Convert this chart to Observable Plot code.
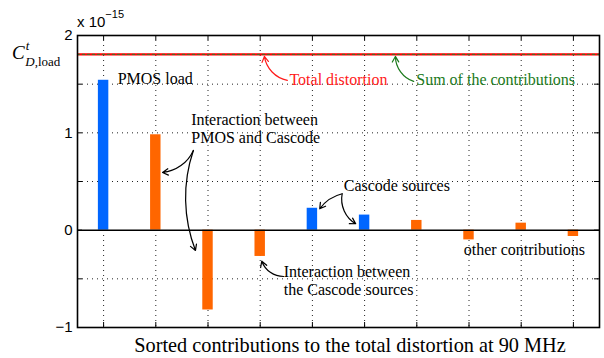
<!DOCTYPE html>
<html><head><meta charset="utf-8">
<script src="https://cdn.jsdelivr.net/npm/d3@7"></script>
<script src="https://cdn.jsdelivr.net/npm/@observablehq/plot@0.6"></script>
<style>body{margin:0;background:#fff;} svg{display:block;}</style>
</head><body><div id="chart"></div>
<script>
// ---- data ----
const positions = [1, 2, 3, 4, 5, 6, 7, 8, 9, 10];
const values = [1.54, 0.98, -0.82, -0.27, 0.225, 0.155, 0.10, -0.10, 0.072, -0.065];
const kinds = ["self", "inter", "inter", "inter", "self", "self", "inter", "inter", "inter", "inter"];
const totalDistortion = 1.806;
const sumContributions = 1.806;
const yTicks = [-1, -0.5, 0, 0.5, 1, 1.5, 2];
const yTickLabels = [-1, 0, 1, 2];
const xTicks = positions;

const labelText = ["PMOS load", "Interaction between", "PMOS and Cascode", "Total distortion",
  "Sum of the contributions", "Cascode sources", "Interaction between", "the Cascode sources", "other contributions"];
const labelX = [1.27, 2.68, 2.68, 4.56, 6.99, 5.60, 4.45, 4.45, 7.90];
const labelY = [1.50, 1.078, 0.891, 1.487, 1.487, 0.398, -0.486, -0.671, -0.260];
const labelColor = ["black", "black", "black", "#ff1a1a", "#1b7a1b", "black", "black", "black", "black"];

const arrowX1 = [4.52, 6.94, 2.72, 2.72, 5.57, 5.57, 4.45];
const arrowY1 = [1.539, 1.528, 0.819, 0.819, 0.374, 0.374, -0.476];
const arrowX2 = [4.08, 6.59, 2.13, 2.76, 5.14, 5.83, 4.03];
const arrowY2 = [1.785, 1.785, 0.593, -0.208, 0.220, 0.066, -0.319];
const arrowBend = [35, 35, 30, -20, -20, -35, 35];
const arrowColor = ["#ff1a1a", "#1b7a1b", "black", "black", "black", "black", "black"];

// ---- tables ----
const bars = positions.map((p, i) => ({x: p, v: values[i], k: kinds[i]}));
const labels = labelText.map((t, i) => ({t, x: labelX[i], y: labelY[i], c: labelColor[i]}));
const arrows = arrowX1.map((x, i) => ({x1: x, y1: arrowY1[i], x2: arrowX2[i], y2: arrowY2[i], b: arrowBend[i], c: arrowColor[i]}));
const colorOf = {self: "#0066ff", inter: "#ff6600"};

const W = 604, H = 358, mL = 77, mR = 5, mT = 35, mB = 31;
const xDom = [0.5, 10.5], yDom = [-1, 2];
const pxX = (xDom[1] - xDom[0]) / (W - mL - mR);
const pxY = (yDom[1] - yDom[0]) / (H - mT - mB);
const tick = 5;
const serif = "Liberation Serif";
const sans = "Liberation Sans";

const arrowMarks = arrows.map(a => Plot.arrow([a], {x1: "x1", y1: "y1", x2: "x2", y2: "y2", bend: a.b,
  stroke: a.c, strokeWidth: 1.2, headLength: 8}));

const plot = Plot.plot({
  width: W, height: H,
  marginLeft: mL, marginRight: mR, marginTop: mT, marginBottom: mB,
  x: {domain: xDom, axis: null},
  y: {domain: yDom, axis: null},
  color: {type: "identity"},
  style: {fontFamily: serif, background: "white", overflow: "visible"},
  marks: [
    // dotted grid
    Plot.ruleX(xTicks, {stroke: "#222", strokeWidth: 1, strokeDasharray: "1,4"}),
    Plot.ruleY(yTicks.filter(d => d !== 0 && d !== -1 && d !== 2), {stroke: "#222", strokeWidth: 1, strokeDasharray: "1,4"}),
    // bars
    Plot.rectY(bars, {x1: d => d.x - 0.1, x2: d => d.x + 0.1, y1: 0, y2: "v", fill: d => colorOf[d.k]}),
    // zero line
    Plot.ruleY([0], {stroke: "black", strokeWidth: 1.5}),
    // total + sum
    Plot.ruleY([totalDistortion], {stroke: "#ff0000", strokeWidth: 2.2}),
    Plot.ruleY([sumContributions], {stroke: "#2e7d2e", strokeWidth: 1, strokeDasharray: "3,2"}),
    // ticks
    Plot.ruleY(yTicks, {x1: xDom[0], x2: xDom[0] + tick * pxX, stroke: "black", strokeWidth: 1}),
    Plot.ruleY(yTicks, {x1: xDom[1], x2: xDom[1] - tick * pxX, stroke: "black", strokeWidth: 1}),
    Plot.ruleX(xTicks, {y1: yDom[0], y2: yDom[0] + tick * pxY, stroke: "black", strokeWidth: 1}),
    Plot.ruleX(xTicks, {y1: yDom[1], y2: yDom[1] - tick * pxY, stroke: "black", strokeWidth: 1}),
    Plot.frame({stroke: "black", strokeWidth: 1.6}),
    // tick labels
    Plot.text(yTickLabels, {x: xDom[0], y: d => d, text: d => d < 0 ? "\u2212" + Math.abs(d) : String(d),
      textAnchor: "end", dx: -5, fontFamily: sans, fontSize: 15, fill: "black"}),
    // annotations
    ...arrowMarks,
    Plot.text(labels, {x: "x", y: "y", text: "t", fill: d => d.c, textAnchor: "start", lineAnchor: "bottom",
      fontFamily: serif, fontSize: 16})
  ]
});

const svg = d3.select(plot);
// exponent
const ex = svg.append("text").attr("x", mL).attr("y", 27).attr("text-anchor", "start")
  .attr("font-family", sans).attr("font-size", 15).attr("fill", "black");
ex.append("tspan").text("x 10");
ex.append("tspan").attr("dy", -9).attr("font-size", 11).text("\u221215");
// y label
const yl = svg.append("text").attr("x", 12).attr("y", 59).attr("text-anchor", "start")
  .attr("font-family", serif).attr("font-size", 19).attr("fill", "black");
yl.append("tspan").attr("font-style", "italic").text("C");
yl.append("tspan").attr("font-style", "italic").attr("font-size", 13).attr("dy", -9).attr("dx", 1).text("t");
yl.append("tspan").attr("font-style", "italic").attr("font-size", 13).attr("dy", 16).attr("dx", -4).text("D");
yl.append("tspan").attr("font-size", 13).text(",load");
// x title
svg.append("text").attr("x", 350).attr("y", 352).attr("text-anchor", "middle").attr("font-family", serif)
  .attr("font-size", 20.3).attr("fill", "black").text("Sorted contributions to the total distortion at 90 MHz");

document.getElementById("chart").appendChild(plot);
</script>
</body></html>
